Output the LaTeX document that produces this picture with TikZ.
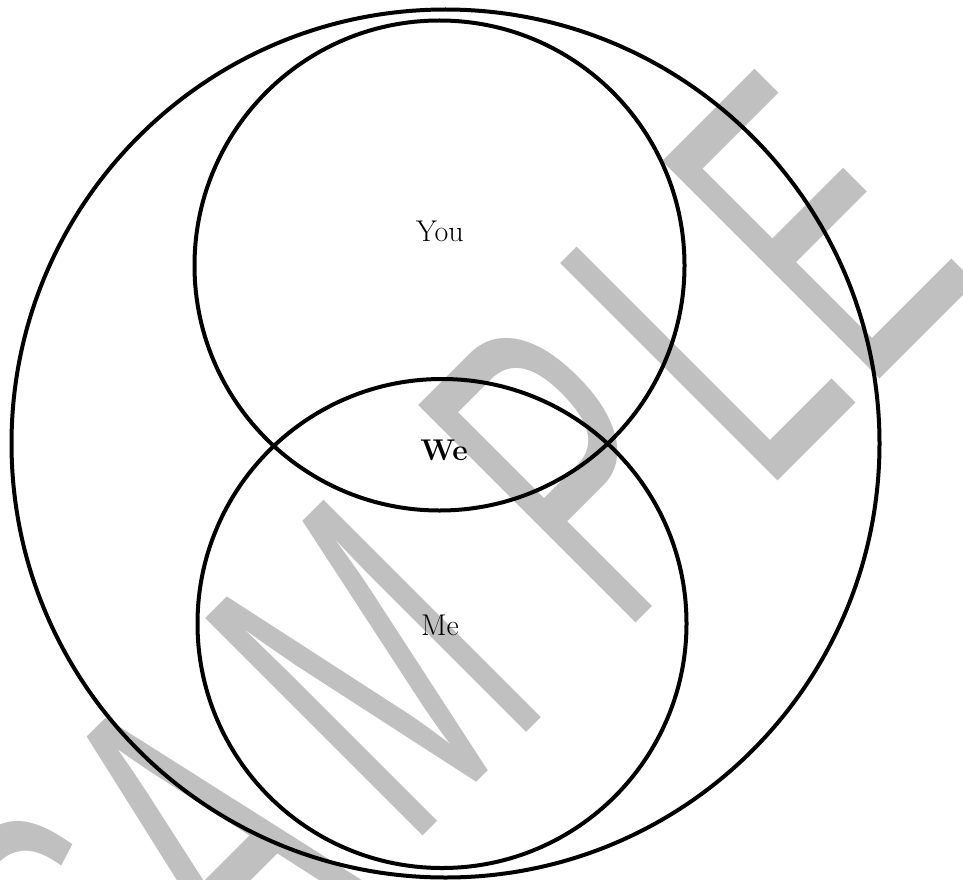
\documentclass[tikz,border=0pt]{standalone}
\usepackage{fontspec}
\usetikzlibrary{positioning}
\newfontfamily\markfont{Liberation Sans}
\definecolor{MarkGray}{RGB}{192,192,192}
\tikzset{
  ring/.style={draw=black,line width=4pt},
  label/.style={anchor=base,inner sep=0pt,font=\fontsize{30}{36}\selectfont},
  watermark/.style={anchor=base west,inner sep=0pt,text=MarkGray,
    font=\markfont\fontsize{447}{447}\selectfont}
}

\begin{document}
\begin{tikzpicture}[x=1pt,y=-1pt]
  \useasboundingbox (0,0) rectangle (963,880);
  \clip (0,0) rectangle (963,880);
  \node[watermark,rotate=45,xscale=0.56] (sample) at (136,1123)
    {S\kern0ptA\kern91ptM\kern166ptP\kern61ptL\kern10ptE};

  \draw[ring] (445.5,443.5) circle (434);
  \draw[ring] (439.5,265.5) circle (245);
  \draw[ring] (442,623.5) circle (244.5);

  \node[label] (you) at (440,241) {You};
  \node[label,font=\fontsize{30}{36}\selectfont\bfseries] (we) at (444,460) {We};
  \node[label] (me) at (440,635) {Me};
\end{tikzpicture}
\end{document}
